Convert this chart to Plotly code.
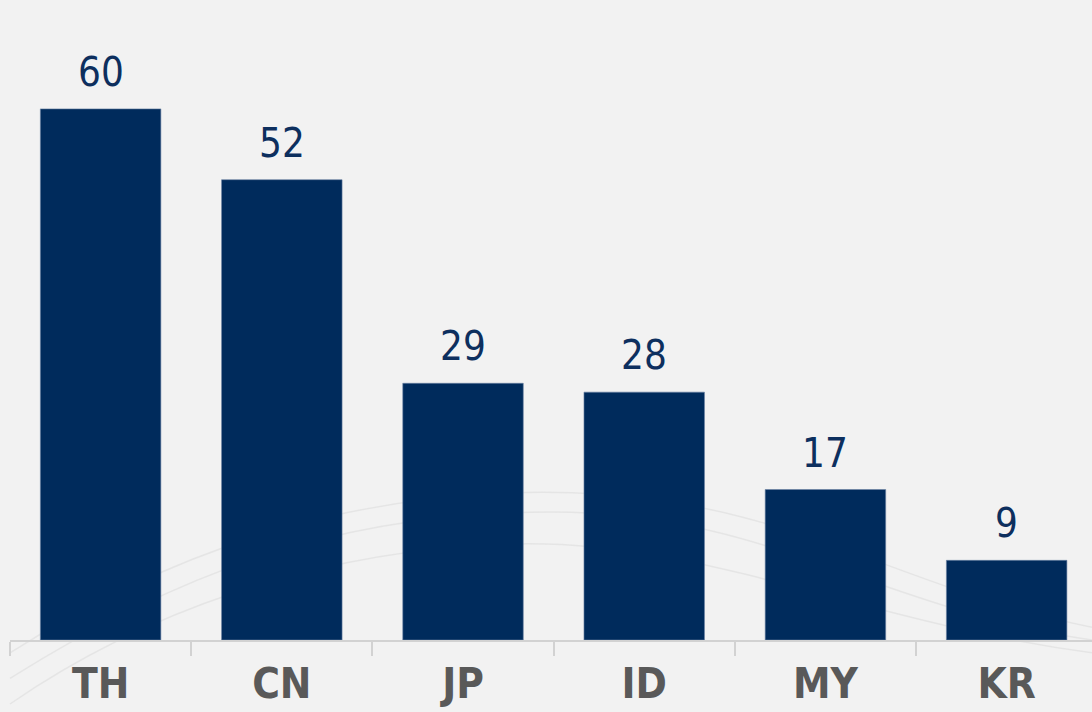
import plotly.graph_objects as go

categories = ["TH", "CN", "JP", "ID", "MY", "KR"]
values = [60, 52, 29, 28, 17, 9]

BAR_COLOR = "#002b5c"
LABEL_COLOR = "#0d2f5e"
CAT_COLOR = "#595959"
AXIS_COLOR = "#d2d2d2"
BG = "#f2f2f2"
FONT = "DejaVu Sans Condensed, DejaVu Sans, sans-serif"

fig = go.Figure()
fig.add_trace(go.Bar(
    x=categories,
    y=values,
    marker=dict(color=BAR_COLOR, line=dict(color="#6a82a3", width=0.6)),
    width=0.665,
    hoverinfo="x+y",
))

for c, v in zip(categories, values):
    fig.add_annotation(
        x=c, y=v, text=str(v), showarrow=False,
        yanchor="bottom", yshift=12,
        font=dict(family=FONT, size=40, color=LABEL_COLOR),
    )

# faint decorative background swooshes (paper coordinates)
swooshes = [
    "M 0,-0.06 C 0.15,0.1 0.3,0.2 0.5,0.2 S 0.8,0.05 1,0.0",
    "M 0,-0.02 C 0.15,0.14 0.32,0.24 0.52,0.23 S 0.82,0.08 1,0.02",
    "M 0,-0.1 C 0.12,0.04 0.28,0.14 0.46,0.15 S 0.78,0.03 1,-0.02",
]
for p in swooshes:
    fig.add_shape(type="path", path=p, xref="paper", yref="paper",
                  line=dict(color="rgba(205,205,205,0.35)", width=1.5),
                  layer="below")

fig.update_layout(
    width=1092, height=712,
    margin=dict(l=10, r=0, t=0, b=72),
    paper_bgcolor=BG, plot_bgcolor="rgba(0,0,0,0)",
    showlegend=False,
    xaxis=dict(
        range=[-0.5, 5.471],
        automargin=False,
        showline=True, linecolor=AXIS_COLOR, linewidth=2,
        ticks="outside", ticklen=14, tickcolor=AXIS_COLOR, tickwidth=2,
        tickson="boundaries",
        ticklabelstandoff=6,
        tickfont=dict(family=FONT, size=42, color=CAT_COLOR, weight="bold"),
        showgrid=False, zeroline=False,
    ),
    yaxis=dict(
        range=[0, 72.3],
        automargin=False,
        visible=False, showgrid=False, zeroline=False,
    ),
)

fig.write_html(
    "out.html",
    config={"displayModeBar": False},
    post_script="document.body.style.margin='0';document.body.style.background='%s';" % BG,
)
